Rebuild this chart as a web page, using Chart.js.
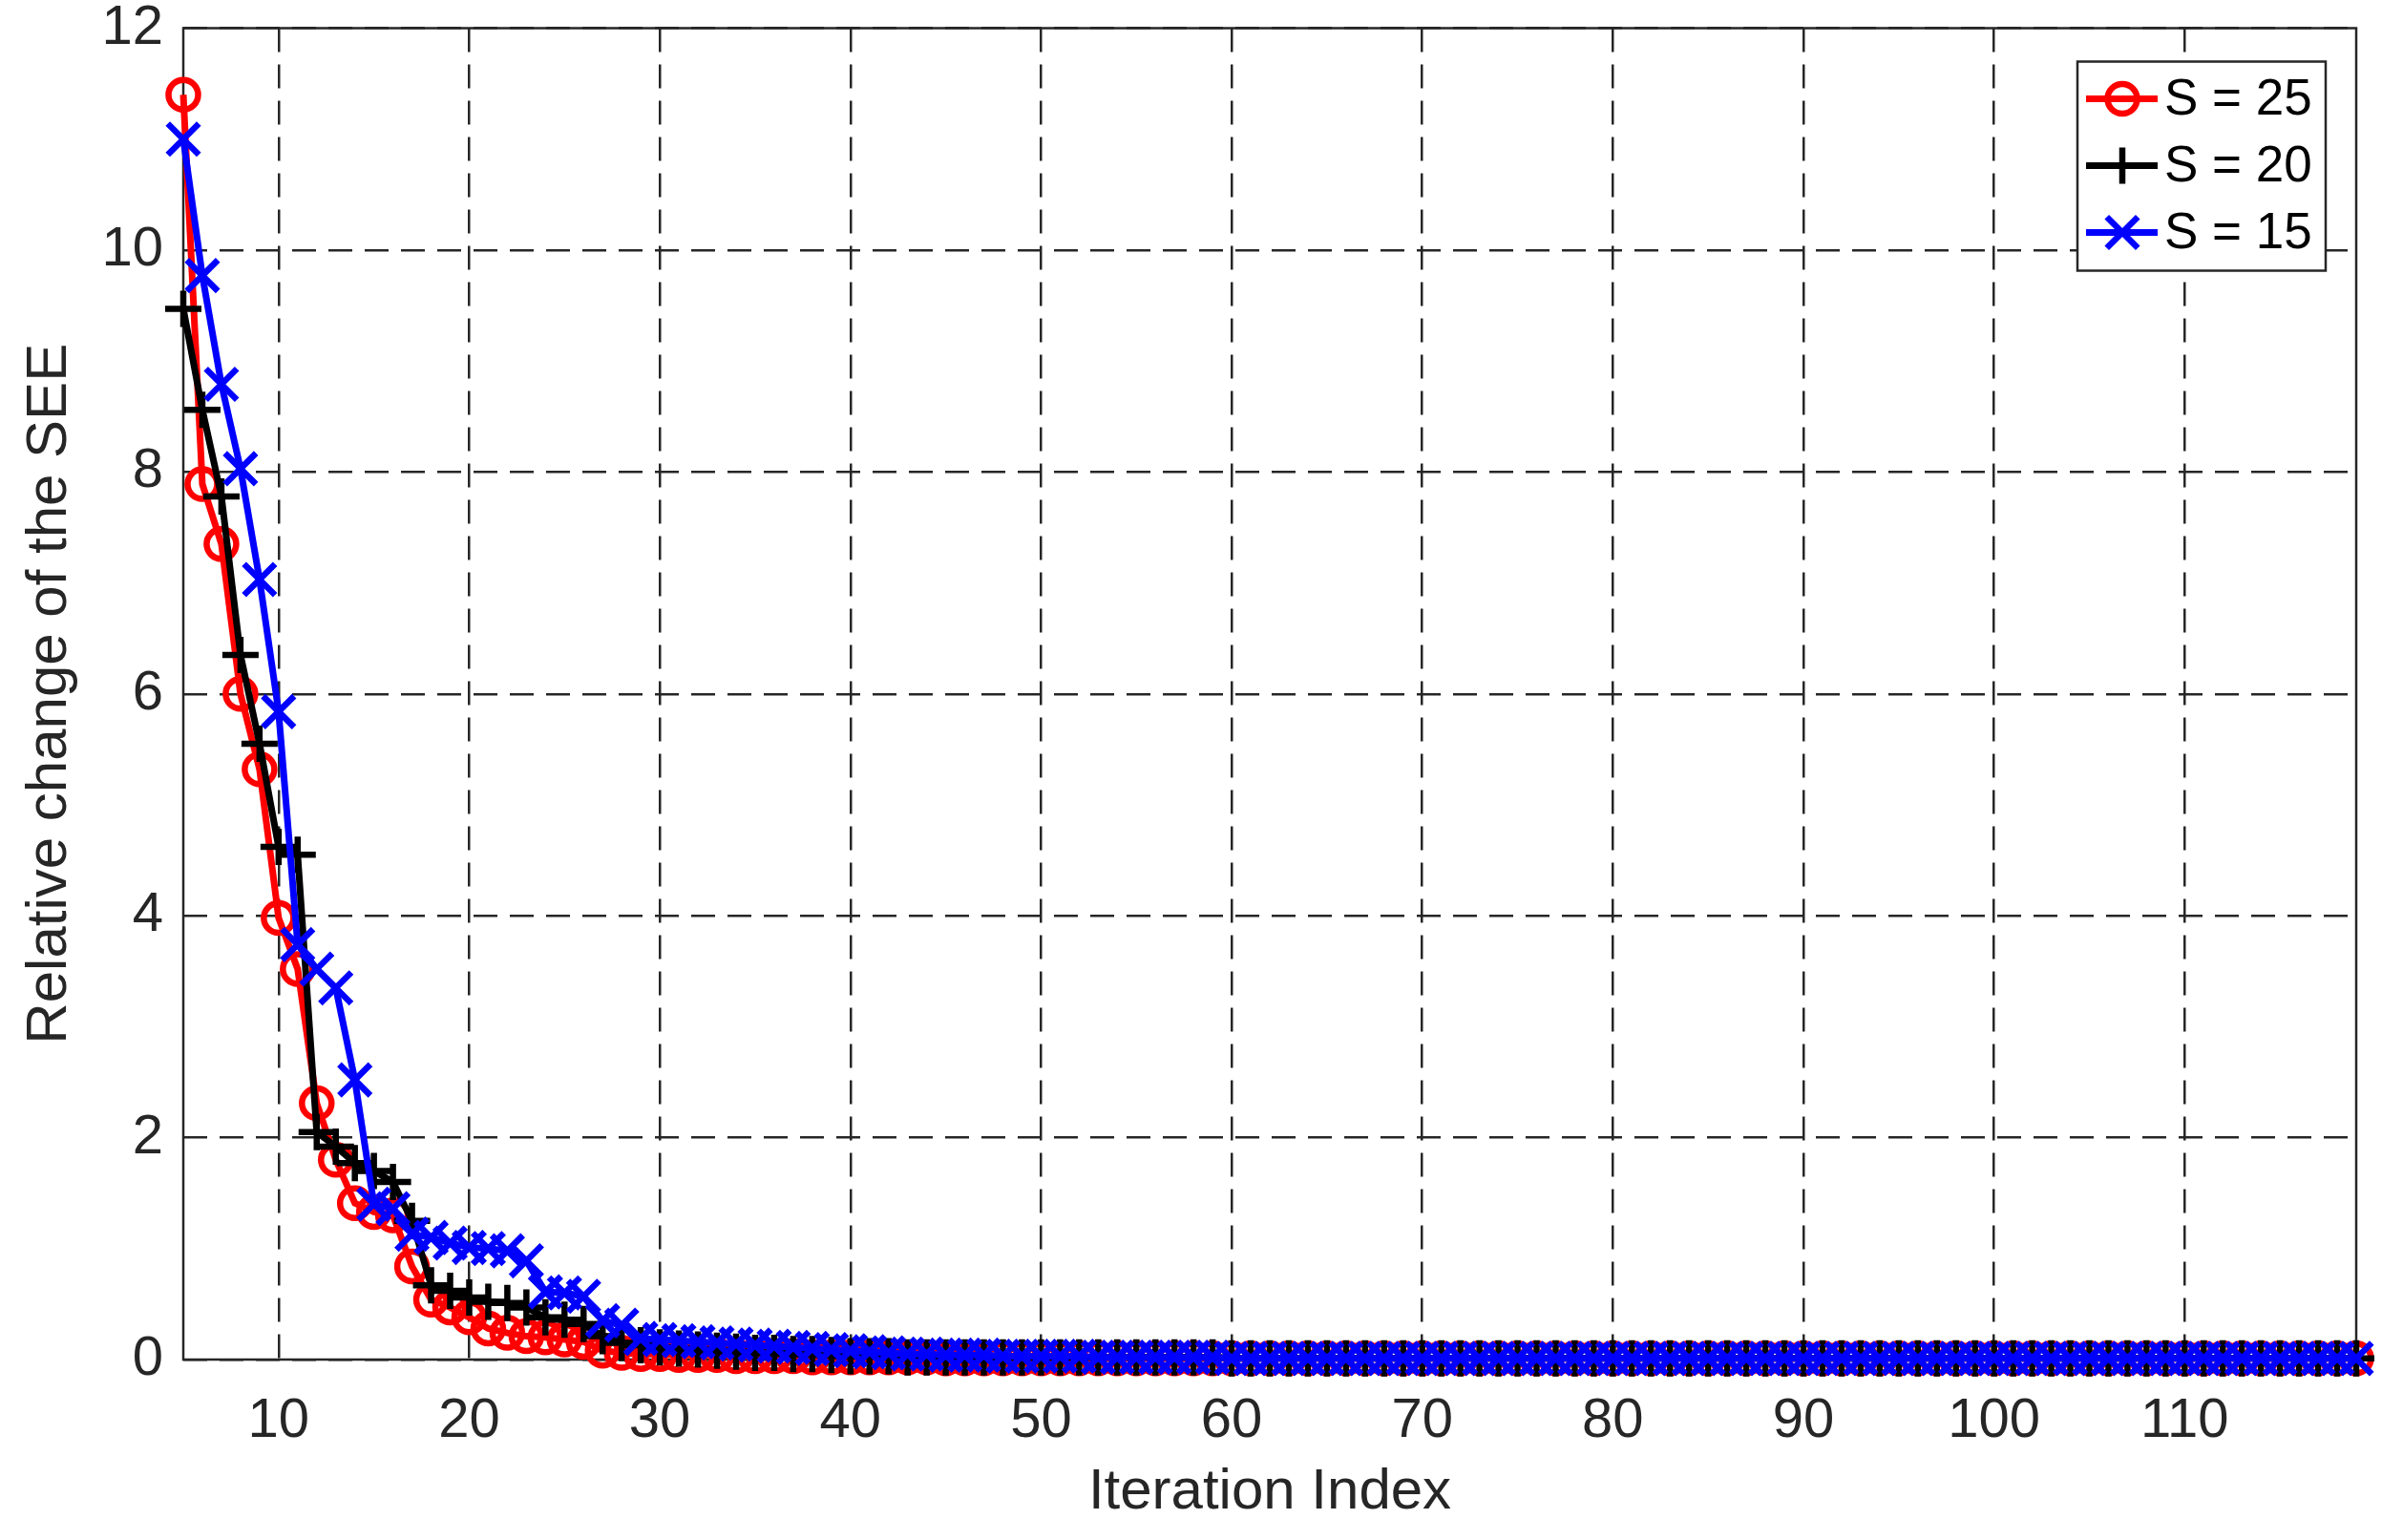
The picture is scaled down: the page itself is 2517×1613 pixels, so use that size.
<!DOCTYPE html>
<html>
<head>
<meta charset="utf-8">
<script src="https://cdn.jsdelivr.net/npm/chart.js@4.4.0/dist/chart.umd.min.js"></script>
<style>
  body { margin: 0; background: #fff; }
  #wrap { width: 2517px; height: 1613px; position: relative; }
</style>
</head>
<body>
<div id="wrap"><canvas id="chart"></canvas></div>
<script>
// iteration index (x)
const iterations = [
  5, 6, 7, 8, 9, 10, 11, 12, 13, 14, 15, 16, 17, 18, 19, 20, 21, 22, 23, 24, 25, 26, 27, 28, 29,
  30, 31, 32, 33, 34, 35, 36, 37, 38, 39, 40, 41, 42, 43, 44,
  45, 46, 47, 48, 49, 50, 51, 52, 53, 54, 55, 56, 57, 58, 59,
  60, 61, 62, 63, 64, 65, 66, 67, 68, 69, 70, 71, 72, 73, 74,
  75, 76, 77, 78, 79, 80, 81, 82, 83, 84, 85, 86, 87, 88, 89,
  90, 91, 92, 93, 94, 95, 96, 97, 98, 99, 100, 101, 102, 103, 104,
  105, 106, 107, 108, 109, 110, 111, 112, 113, 114, 115, 116, 117, 118, 119
];

// S = 25
const seeS25 = [
  11.40, 7.89, 7.35, 6.00, 5.32, 3.98, 3.52, 2.31, 1.80, 1.41, 1.33, 1.30, 0.84, 0.54, 0.47, 0.38, 0.28, 0.24, 0.21, 0.20, 0.18, 0.16, 0.08, 0.06, 0.05,
  0.05, 0.04, 0.04, 0.04, 0.03, 0.03, 0.03, 0.03, 0.02, 0.02, 0.02, 0.02, 0.02, 0.02, 0.02,
  0.01, 0.01, 0.01, 0.01, 0.01, 0.01, 0.01, 0.01, 0.01, 0.01, 0.01, 0.01, 0.01, 0.01, 0.01,
  0.01, 0.01, 0.01, 0.01, 0.01, 0.01, 0.01, 0.01, 0.01, 0.01, 0.01, 0.01, 0.01, 0.01, 0.01,
  0.01, 0.01, 0.01, 0.01, 0.01, 0.01, 0.01, 0.01, 0.01, 0.01, 0.01, 0.01, 0.01, 0.01, 0.01,
  0.01, 0.01, 0.01, 0.01, 0.01, 0.01, 0.01, 0.01, 0.01, 0.01, 0.01, 0.01, 0.01, 0.01, 0.01,
  0.01, 0.01, 0.01, 0.01, 0.01, 0.01, 0.01, 0.01, 0.01, 0.01, 0.01, 0.01, 0.01, 0.01, 0.01
];

// S = 20
const seeS20 = [
  9.47, 8.56, 7.78, 6.35, 5.55, 4.62, 4.55, 2.05, 1.92, 1.77, 1.70, 1.60, 1.25, 0.67, 0.62, 0.56, 0.52, 0.51, 0.47, 0.38, 0.36, 0.32, 0.21, 0.15, 0.13,
  0.11, 0.10, 0.09, 0.08, 0.07, 0.06, 0.06, 0.05, 0.05, 0.04, 0.03, 0.03, 0.03, 0.02, 0.02,
  0.02, 0.02, 0.02, 0.02, 0.02, 0.02, 0.02, 0.02, 0.02, 0.02, 0.02, 0.02, 0.02, 0.02, 0.02,
  0.01, 0.01, 0.01, 0.01, 0.01, 0.01, 0.01, 0.01, 0.01, 0.01, 0.01, 0.01, 0.01, 0.01, 0.01,
  0.01, 0.01, 0.01, 0.01, 0.01, 0.01, 0.01, 0.01, 0.01, 0.01, 0.01, 0.01, 0.01, 0.01, 0.01,
  0.01, 0.01, 0.01, 0.01, 0.01, 0.01, 0.01, 0.01, 0.01, 0.01, 0.01, 0.01, 0.01, 0.01, 0.01,
  0.01, 0.01, 0.01, 0.01, 0.01, 0.01, 0.01, 0.01, 0.01, 0.01, 0.01, 0.01, 0.01, 0.01, 0.01
];

// S = 15
const seeS15 = [
  11.00, 9.77, 8.79, 8.03, 7.03, 5.84, 3.74, 3.52, 3.35, 2.52, 1.40, 1.36, 1.13, 1.10, 1.05, 1.01, 1.00, 0.98, 0.89, 0.61, 0.60, 0.57, 0.35, 0.31, 0.19,
  0.18, 0.17, 0.16, 0.15, 0.14, 0.13, 0.12, 0.11, 0.10, 0.09, 0.08, 0.07, 0.06, 0.05, 0.05,
  0.04, 0.04, 0.04, 0.03, 0.03, 0.03, 0.03, 0.03, 0.02, 0.02, 0.02, 0.02, 0.02, 0.02, 0.02,
  0.01, 0.01, 0.01, 0.01, 0.01, 0.01, 0.01, 0.01, 0.01, 0.01, 0.01, 0.01, 0.01, 0.01, 0.01,
  0.01, 0.01, 0.01, 0.01, 0.01, 0.01, 0.01, 0.01, 0.01, 0.01, 0.01, 0.01, 0.01, 0.01, 0.01,
  0.01, 0.01, 0.01, 0.01, 0.01, 0.01, 0.01, 0.01, 0.01, 0.01, 0.01, 0.01, 0.01, 0.01, 0.01,
  0.01, 0.01, 0.01, 0.01, 0.01, 0.01, 0.01, 0.01, 0.01, 0.01, 0.01, 0.01, 0.01, 0.01, 0.01
];

const xTicks = [10, 20, 30, 40, 50, 60, 70, 80, 90, 100, 110];
const yTicks = [0, 2, 4, 6, 8, 10, 12];
const seriesNames = ['S = 25', 'S = 20', 'S = 15'];

const FONT = '"Liberation Sans", Arial, Helvetica, sans-serif';
const AXIS_COLOR = '#262626';

const toPoints = (vals) => iterations.map((x, i) => ({ x: x, y: vals[i] }));

const styles = [
  { color: '#ff0000', pointStyle: 'circle', radius: 15.5 },
  { color: '#000000', pointStyle: 'cross', radius: 19 },
  { color: '#0000ff', pointStyle: 'crossRot', radius: 23 }
];

function makeDataset(label, vals, st, order) {
  return {
    label: label,
    data: toPoints(vals),
    borderColor: st.color,
    backgroundColor: 'rgba(0,0,0,0)',
    borderWidth: 7,
    pointStyle: st.pointStyle,
    pointRadius: st.radius,
    pointHoverRadius: st.radius,
    pointBorderWidth: 6.5,
    pointBorderColor: st.color,
    pointBackgroundColor: 'rgba(0,0,0,0)',
    tension: 0,
    clip: false,
    order: order
  };
}

// axes box drawn like matlab (all four sides)
const boxPlugin = {
  id: 'box',
  beforeDatasetsDraw(chart) {
    const a = chart.chartArea;
    const ctx = chart.ctx;
    ctx.save();
    ctx.strokeStyle = AXIS_COLOR;
    ctx.lineWidth = 2.5;
    ctx.setLineDash([]);
    ctx.strokeRect(a.left, a.top, a.right - a.left, a.bottom - a.top);
    ctx.restore();
  }
};

// legend in the top right corner: line + marker + text
const legendPlugin = {
  id: 'matlabLegend',
  afterDraw(chart) {
    const a = chart.chartArea;
    const ctx = chart.ctx;
    const bw = 260, bh = 219;
    const bx = a.right - 32 - bw;
    const by = a.top + 35;
    ctx.save();
    ctx.fillStyle = '#ffffff';
    ctx.fillRect(bx, by, bw, bh);
    ctx.strokeStyle = AXIS_COLOR;
    ctx.lineWidth = 2.5;
    ctx.strokeRect(bx, by, bw, bh);
    ctx.font = '53px ' + FONT;
    ctx.textBaseline = 'middle';
    ctx.textAlign = 'left';
    seriesNames.forEach((name, i) => {
      const st = styles[i];
      const cy = by + 39 + i * 70;
      ctx.strokeStyle = st.color;
      ctx.lineWidth = 7;
      ctx.beginPath();
      ctx.moveTo(bx + 9, cy);
      ctx.lineTo(bx + 84, cy);
      ctx.stroke();
      ctx.fillStyle = 'rgba(0,0,0,0)';
      ctx.lineWidth = 6.5;
      Chart.helpers.drawPoint(ctx, {
        pointStyle: st.pointStyle, radius: st.radius, borderWidth: 6.5, rotation: 0
      }, bx + 47, cy);
      ctx.fillStyle = '#000000';
      ctx.fillText(name, bx + 91, cy + 2);
    });
    ctx.restore();
  }
};

const ctx = document.getElementById('chart').getContext('2d');
new Chart(ctx, {
  type: 'line',
  data: {
    datasets: [
      makeDataset(seriesNames[0], seeS25, styles[0], 2),
      makeDataset(seriesNames[1], seeS20, styles[1], 1),
      makeDataset(seriesNames[2], seeS15, styles[2], 0)
    ]
  },
  options: {
    responsive: true,
    maintainAspectRatio: false,
    animation: false,
    events: [],
    layout: { padding: { left: 0, right: 49, top: 29, bottom: 0 } },
    plugins: { legend: { display: false }, tooltip: { enabled: false } },
    scales: {
      x: {
        type: 'linear',
        min: 5,
        max: 119,
        afterBuildTicks: (scale) => { scale.ticks = xTicks.map(v => ({ value: v })); },
        afterFit: (scale) => { scale.height = 189; scale.paddingLeft = 0; scale.paddingRight = 0; },
        ticks: { color: AXIS_COLOR, font: { family: FONT, size: 58 }, padding: 30, maxRotation: 0, autoSkip: false },
        grid: { color: AXIS_COLOR, lineWidth: 2.5, drawTicks: false },
        border: { display: false, dash: [25, 13] },
        title: { display: true, text: 'Iteration Index', color: AXIS_COLOR, font: { family: FONT, size: 60 }, padding: { top: 0, bottom: 14 } }
      },
      y: {
        type: 'linear',
        min: 0,
        max: 12,
        afterBuildTicks: (scale) => { scale.ticks = yTicks.map(v => ({ value: v })); },
        afterFit: (scale) => { scale.width = 192; scale.paddingTop = 0; scale.paddingBottom = 0; },
        ticks: { color: AXIS_COLOR, font: { family: FONT, size: 58 }, padding: 21 },
        grid: { color: AXIS_COLOR, lineWidth: 2.5, drawTicks: false },
        border: { display: false, dash: [25, 13] },
        title: { display: true, text: 'Relative change of the SEE', color: AXIS_COLOR, font: { family: FONT, size: 60 }, padding: { top: 16, bottom: 0 } }
      }
    }
  },
  plugins: [boxPlugin, legendPlugin]
});
</script>
</body>
</html>
